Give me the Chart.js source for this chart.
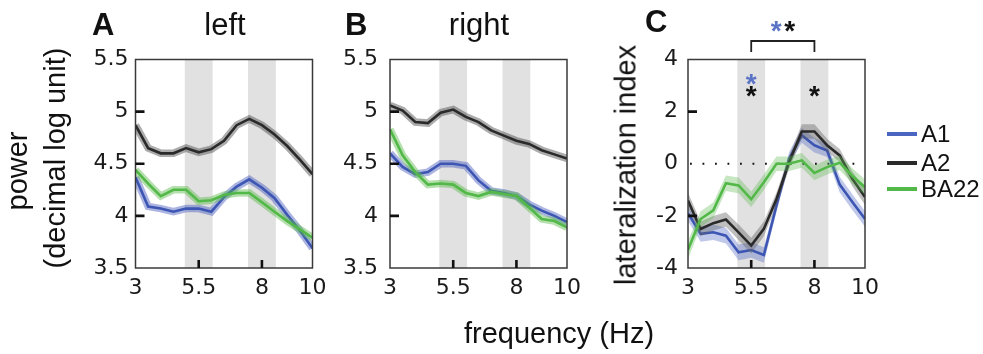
<!DOCTYPE html>
<html>
<head>
<meta charset="utf-8">
<title>power and lateralization</title>
<script src="https://cdn.jsdelivr.net/npm/chart.js@4.4.1/dist/chart.umd.min.js"></script>
<style>
  body { margin: 0; background: #fff; }
  #wrap { position: relative; width: 983px; height: 354px; overflow: hidden;
          font-family: 'Liberation Sans', Arial, sans-serif; color: #111; }
  canvas { position: absolute; left: 0; top: 0; }
  .txt { position: absolute; white-space: nowrap; }
  .t31 { font-size: 31px; line-height: 31px; }
  .t29 { font-size: 29px; line-height: 29px; }
  .t24 { font-size: 24px; line-height: 24px; }
  .bold { font-weight: bold; }
  .rot { transform: translate(-50%, -50%) rotate(-90deg); }
  .ctr { transform: translateX(-50%); }
  .swatch { position: absolute; width: 30px; height: 4px; }
</style>
</head>
<body>
<div id="wrap">
  <canvas id="chart-left" width="983" height="354"></canvas>
  <canvas id="chart-right" width="983" height="354"></canvas>
  <canvas id="chart-lat" width="983" height="354"></canvas>

  <div class="txt t31 bold" style="left:92px;top:9px;">A</div>
  <div class="txt t31 ctr" style="left:225px;top:9px;">left</div>
  <div class="txt t31 bold" style="left:345px;top:9px;">B</div>
  <div class="txt t31 ctr" style="left:479px;top:9px;">right</div>
  <div class="txt t31 bold" style="left:645px;top:6px;">C</div>

  <div class="txt t29 rot" style="left:17px;top:171px;">power</div>
  <div class="txt t29 rot" style="left:55px;top:158px;">(decimal log unit)</div>
  <div class="txt t29 rot" style="left:626px;top:165px;">lateralization index</div>
  <div class="txt t29 ctr" style="left:559px;top:319px;">frequency (Hz)</div>

  <div id="legend"></div>
</div>

<script>
'use strict';

// ***** DATA *****
const freqs = [3, 3.5, 4, 4.5, 5, 5.5, 6, 6.5, 7, 7.5, 8, 8.5, 9, 9.5, 10];
const freqTicks = [3, 5.5, 8, 10];
const powerTicks = [3.5, 4, 4.5, 5, 5.5];
const latTicks = [-4, -2, 0, 2, 4];
const shadedFreqs = [5.5, 8];
const regions = ['A1', 'A2', 'BA22'];

// power, left hemisphere
const leftA1   = [4.37, 4.09, 4.07, 4.04, 4.07, 4.07, 4.04, 4.18, 4.28, 4.35, 4.27, 4.17, 4.01, 3.86, 3.69];
const leftA2   = [4.87, 4.65, 4.60, 4.60, 4.65, 4.61, 4.64, 4.72, 4.87, 4.93, 4.87, 4.78, 4.67, 4.54, 4.40];
const leftBA22 = [4.44, 4.31, 4.19, 4.25, 4.25, 4.14, 4.15, 4.20, 4.22, 4.22, 4.13, 4.04, 3.95, 3.87, 3.79];

// power, right hemisphere
const rightA1   = [4.60, 4.47, 4.40, 4.42, 4.50, 4.50, 4.48, 4.34, 4.24, 4.22, 4.19, 4.11, 4.05, 4.00, 3.94];
const rightA2   = [5.06, 5.01, 4.90, 4.89, 4.99, 5.02, 4.95, 4.90, 4.82, 4.77, 4.72, 4.69, 4.63, 4.59, 4.55];
const rightBA22 = [4.83, 4.58, 4.42, 4.30, 4.31, 4.30, 4.22, 4.19, 4.23, 4.21, 4.19, 4.08, 3.97, 3.95, 3.89];

// lateralization index (mean and sem)
const latA1   = [-1.90, -2.69, -2.63, -2.76, -3.40, -3.31, -3.50, -1.60, 0.20, 1.09, 0.71, 0.51, -0.80, -1.47, -2.12];
const latA2   = [-1.41, -2.50, -2.28, -2.14, -2.63, -3.14, -2.50, -1.35, 0.06, 1.24, 1.24, 0.71, 0.32, -0.58, -1.28];
const latBA22 = [-3.30, -2.12, -1.79, -0.75, -0.83, -1.36, -0.71, 0.00, 0.00, 0.13, -0.35, -0.13, 0.04, -0.47, -0.90];
const semA1   = [0.30, 0.30, 0.30, 0.30, 0.30, 0.30, 0.30, 0.25, 0.25, 0.28, 0.28, 0.25, 0.30, 0.30, 0.30];
const semA2   = [0.30, 0.28, 0.28, 0.28, 0.30, 0.30, 0.28, 0.25, 0.25, 0.28, 0.28, 0.25, 0.25, 0.28, 0.30];
const semBA22 = [0.35, 0.30, 0.30, 0.30, 0.30, 0.30, 0.30, 0.28, 0.28, 0.28, 0.28, 0.28, 0.28, 0.30, 0.30];

// ***** STYLES *****
const lineColor = { A1: '#3d56b3', A2: '#2a2a2a', BA22: '#52b848' };
const haloColor = { A1: 'rgba(70,92,188,0.45)', A2: 'rgba(70,70,70,0.45)', BA22: 'rgba(92,186,76,0.45)' };
const bandColor = { A1: 'rgba(75,100,195,0.35)', A2: 'rgba(95,95,95,0.40)', BA22: 'rgba(92,186,76,0.35)' };
const legendColor = { A1: '#4a66c0', A2: '#2a2a2a', BA22: '#52b848' };
const starBlue = '#5b74c6';
const tickFont = { family: "'DejaVu Sans', Verdana, sans-serif", size: 22 };

// ***** HELPERS *****
function toPoints(values) {
  return freqs.map((f, i) => ({ x: f, y: values[i] }));
}

function offsetPoints(values, sem, sign) {
  return freqs.map((f, i) => ({ x: f, y: values[i] + sign * sem[i] }));
}

// mean line drawn over a soft halo of the same hue
function powerSets(byRegion) {
  const sets = [];
  ['BA22', 'A2', 'A1'].forEach(r => {
    sets.push({ label: r, data: toPoints(byRegion[r]), borderColor: lineColor[r], borderWidth: 2.6 });
    sets.push({ label: r + ' halo', data: toPoints(byRegion[r]), borderColor: haloColor[r], borderWidth: 7.5 });
  });
  return sets;
}

// mean line, then upper bound filled down to lower bound
function latSets(means, sems) {
  const sets = [];
  ['BA22', 'A2', 'A1'].forEach(r => {
    sets.push({ label: r, data: toPoints(means[r]), borderColor: lineColor[r], borderWidth: 2.6 });
    sets.push({ label: r + ' hi', data: offsetPoints(means[r], sems[r], 1), borderWidth: 0,
                fill: '+1', backgroundColor: bandColor[r] });
    sets.push({ label: r + ' lo', data: offsetPoints(means[r], sems[r], -1), borderWidth: 0 });
  });
  return sets;
}

// grey frequency bands, frame, inward ticks and significance marks
const panelDeco = {
  id: 'panelDeco',
  beforeDatasetsDraw(chart, args, opts) {
    const { ctx, chartArea: a, scales: { x, y } } = chart;
    ctx.save();
    ctx.fillStyle = '#e1e1e1';
    shadedFreqs.forEach(c => {
      const x0 = x.getPixelForValue(c - 0.55);
      const x1 = x.getPixelForValue(c + 0.55);
      ctx.fillRect(x0, a.top, x1 - x0, a.bottom - a.top);
    });
    if (opts.zeroLine) {
      const yz = y.getPixelForValue(0);
      ctx.strokeStyle = '#111';
      ctx.lineWidth = 1.8;
      ctx.setLineDash([1.8, 10.7]);
      ctx.beginPath();
      ctx.moveTo(a.left + 2, yz);
      ctx.lineTo(a.right - 8, yz);
      ctx.stroke();
    }
    ctx.restore();
  },
  afterDraw(chart, args, opts) {
    const { ctx, chartArea: a, scales: { x, y } } = chart;
    ctx.save();
    ctx.strokeStyle = '#3a3a3a';
    ctx.lineWidth = 1.5;
    ctx.strokeRect(a.left, a.top, a.right - a.left, a.bottom - a.top);

    ctx.strokeStyle = '#111';
    ctx.lineWidth = 2.6;
    ctx.beginPath();
    opts.yMarks.forEach(v => {
      const py = y.getPixelForValue(v);
      ctx.moveTo(a.left, py);
      ctx.lineTo(a.left + 9, py);
    });
    shadedFreqs.forEach(f => {
      const px = x.getPixelForValue(f);
      ctx.moveTo(px, a.bottom);
      ctx.lineTo(px, a.bottom - 8);
    });
    ctx.stroke();

    if (opts.stars) {
      ctx.font = "bold 28px 'Liberation Sans', Arial, sans-serif";
      ctx.textAlign = 'center';
      ctx.textBaseline = 'alphabetic';
      opts.stars.forEach(s => {
        ctx.fillStyle = s.color;
        ctx.fillText('*', x.getPixelForValue(s.x) + (s.dx || 0), y.getPixelForValue(s.y) + 16);
      });
    }
    if (opts.bracket) {
      const x0 = x.getPixelForValue(opts.bracket[0]);
      const x1 = x.getPixelForValue(opts.bracket[1]);
      const top = a.top - 18.5;
      ctx.strokeStyle = '#222';
      ctx.lineWidth = 1.8;
      ctx.beginPath();
      ctx.moveTo(x0, top + 11);
      ctx.lineTo(x0, top);
      ctx.lineTo(x1, top);
      ctx.lineTo(x1, top + 11);
      ctx.stroke();
      const mid = (x0 + x1) / 2;
      ctx.font = "bold 28px 'Liberation Sans', Arial, sans-serif";
      ctx.textAlign = 'center';
      ctx.fillStyle = starBlue;
      ctx.fillText('*', mid - 6.5, a.top - 20);
      ctx.fillStyle = '#111';
      ctx.fillText('*', mid + 7, a.top - 20);
    }
    ctx.restore();
  }
};

function makePanel(canvasId, yMin, yMax, yTicks, padding, labelPad, datasets, deco) {
  return new Chart(document.getElementById(canvasId), {
    type: 'line',
    data: { datasets: datasets },
    options: {
      responsive: false,
      animation: false,
      devicePixelRatio: 1,
      layout: { padding: padding },
      elements: { point: { radius: 0 }, line: { tension: 0, fill: false } },
      plugins: { legend: { display: false }, tooltip: { enabled: false }, panelDeco: deco },
      scales: {
        x: {
          type: 'linear', min: 3, max: 10,
          afterBuildTicks: axis => { axis.ticks = freqTicks.map(v => ({ value: v })); },
          afterFit: axis => { axis.height = 40; },
          grid: { display: false, drawTicks: false },
          border: { display: false },
          ticks: { font: tickFont, color: '#1a1a1a', padding: 7, maxRotation: 0, autoSkip: false,
                   callback: v => String(v) }
        },
        y: {
          min: yMin, max: yMax,
          afterBuildTicks: axis => { axis.ticks = yTicks.map(v => ({ value: v })); },
          afterFit: axis => { axis.width = 50; },
          grid: { display: false, drawTicks: false },
          border: { display: false },
          ticks: { font: tickFont, color: '#1a1a1a', padding: labelPad, autoSkip: false,
                   callback: v => String(v) }
        }
      }
    },
    plugins: [panelDeco]
  });
}

// ***** EXECUTABLE CODE *****
makePanel('chart-left', 3.5, 5.5, powerTicks,
  { left: 85.5, right: 670.5, top: 59.5, bottom: 46 }, 7,
  powerSets({ A1: leftA1, A2: leftA2, BA22: leftBA22 }),
  { yMarks: [4, 4.5, 5] });

makePanel('chart-right', 3.5, 5.5, powerTicks,
  { left: 340, right: 416, top: 59.5, bottom: 46 }, 12,
  powerSets({ A1: rightA1, A2: rightA2, BA22: rightBA22 }),
  { yMarks: [4, 4.5, 5] });

makePanel('chart-lat', -4, 4, latTicks,
  { left: 638, right: 118, top: 59.5, bottom: 46 }, 10,
  latSets({ A1: latA1, A2: latA2, BA22: latBA22 }, { A1: semA1, A2: semA2, BA22: semBA22 }),
  {
    yMarks: [-2, 2],
    zeroLine: true,
    stars: [
      { x: 5.5, y: 3.33, color: starBlue },
      { x: 5.5, y: 2.86, color: '#111' },
      { x: 8, y: 2.86, color: '#111' }
    ],
    bracket: [5.5, 8]
  });

// legend
const legendBox = document.getElementById('legend');
const legendRows = [134, 163, 189];
regions.forEach((r, i) => {
  const sw = document.createElement('div');
  sw.className = 'swatch';
  sw.style.left = '887px';
  sw.style.top = (legendRows[i] - 2) + 'px';
  sw.style.background = legendColor[r];
  legendBox.appendChild(sw);
  const lab = document.createElement('div');
  lab.className = 'txt t24';
  lab.style.left = '921px';
  lab.style.top = (legendRows[i] - 11.7) + 'px';
  lab.textContent = r;
  legendBox.appendChild(lab);
});
</script>
</body>
</html>
